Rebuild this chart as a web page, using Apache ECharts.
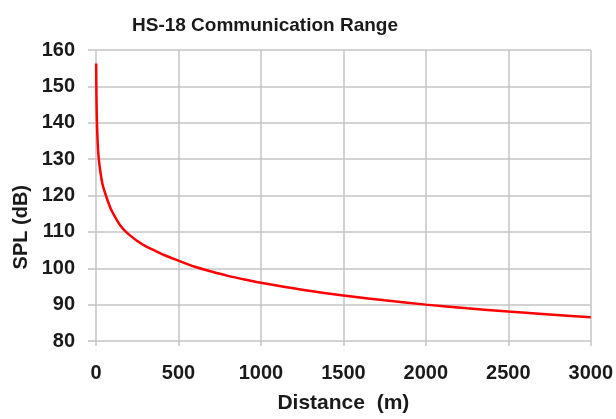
<!DOCTYPE html>
<html><head><meta charset="utf-8">
<script src="https://cdn.jsdelivr.net/npm/echarts@6/dist/echarts.min.js"></script>
<style>html,body{margin:0;padding:0;background:#fff}#c{width:616px;height:419px}</style>
</head><body><div id="c"></div>
<script>
const titleText = "HS-18 Communication Range";
const xName = "Distance  (m)";
const yName = "SPL (dB)";
const distances = [1, 2, 3, 5, 8, 12, 16, 25, 40, 60, 90, 125, 150, 177, 210, 250, 300, 350, 420, 500, 600, 700, 800, 900, 1000, 1250, 1500, 1750, 2000, 2250, 2500, 2750, 3000];
const spl = [156.3, 150, 146.5, 141.5, 137, 133, 130.5, 127, 123, 120, 116.3, 113.4, 111.6, 110.2, 108.9, 107.5, 106.1, 105, 103.5, 102.1, 100.4, 99.1, 97.9, 96.9, 96.0, 94.1, 92.5, 91.2, 90, 89, 88.1, 87.3, 86.5];
const xTicks = [0, 500, 1000, 1500, 2000, 2500, 3000];
const yTicks = [80, 90, 100, 110, 120, 130, 140, 150, 160];

const chart = echarts.init(document.getElementById('c'));
const font = '"Liberation Sans", Arial, sans-serif';
chart.setOption({
  animation: false,
  backgroundColor: '#ffffff',
  grid: {left: 96, right: 23, top: 50, bottom: 75},
  title: {text: titleText, left: 260, top: 11, textAlign: 'center',
    textStyle: {fontFamily: font, fontWeight: 'bold', fontSize: 19, color: '#1a1a1a'}},
  graphic: [{type: 'text', left: 11, top: 185, rotation: Math.PI / 2,
    style: {text: yName, fontFamily: font, fontWeight: 'bold', fontSize: 20, fill: '#1a1a1a'}}],
  xAxis: {type: 'value', min: xTicks[0], max: xTicks[xTicks.length - 1], interval: 500,
    name: xName, nameLocation: 'middle', nameGap: 52,
    nameTextStyle: {fontFamily: font, fontWeight: 'bold', fontSize: 21, color: '#1a1a1a'},
    axisLine: {show: false},
    axisTick: {show: true, length: 5, lineStyle: {color: '#c4c4c4', width: 1.5}},
    axisLabel: {margin: 22, fontFamily: font, fontWeight: 'bold', fontSize: 20, color: '#1a1a1a',
      formatter: v => String(v)},
    splitLine: {show: true, lineStyle: {color: '#c4c4c4', width: 1.5}}},
  yAxis: {type: 'value', min: yTicks[0], max: yTicks[yTicks.length - 1], interval: 10,
    axisLine: {show: false},
    axisTick: {show: true, length: 8, lineStyle: {color: '#c4c4c4', width: 1.5}},
    axisLabel: {margin: 21, fontFamily: font, fontWeight: 'bold', fontSize: 20, color: '#1a1a1a'},
    splitLine: {show: true, lineStyle: {color: '#c4c4c4', width: 1.5}}},
  series: [{type: 'line', data: distances.map((d, i) => [d, spl[i]]), smooth: 0.3,
    showSymbol: false, lineStyle: {color: '#ff0000', width: 2.5}}]
});
</script></body></html>
